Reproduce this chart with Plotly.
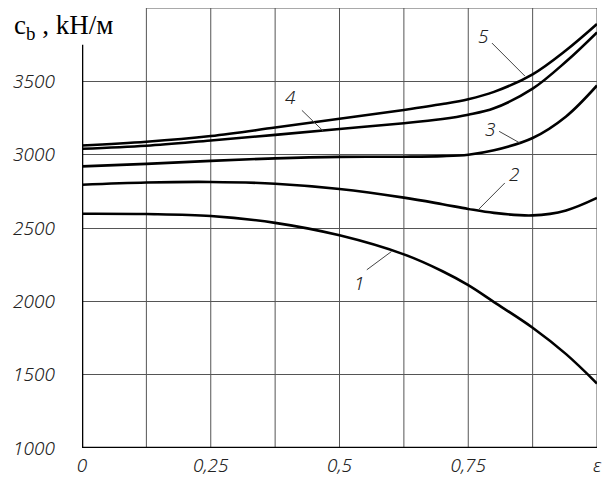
import plotly.graph_objects as go

eps = [0, 0.125, 0.25, 0.375, 0.5, 0.625, 0.7, 0.75, 0.8, 0.875, 0.94, 1.0]
curve1 = [2597, 2595, 2582, 2535, 2450, 2320, 2205, 2110, 1995, 1820, 1640, 1440]
curve2 = [2795, 2810, 2814, 2802, 2766, 2707, 2662, 2630, 2603, 2586, 2620, 2705]
curve3 = [2920, 2937, 2958, 2975, 2985, 2986, 2990, 3000, 3030, 3114, 3261, 3472]
curve4 = [3040, 3061, 3097, 3135, 3175, 3214, 3243, 3272, 3316, 3450, 3635, 3834]
curve5 = [3063, 3088, 3127, 3185, 3245, 3305, 3345, 3378, 3428, 3548, 3712, 3891]
series = [curve1, curve2, curve3, curve4, curve5]

curve_labels = ["1", "2", "3", "4", "5"]
label_x = [0.538, 0.839, 0.792, 0.404, 0.779]
label_y = [2128, 2870, 3177, 3396, 3811]
leader_x0 = [0.553, 0.821, 0.810, 0.427, 0.796]
leader_y0 = [2215, 2807, 3159, 3302, 3761]
leader_x1 = [0.601, 0.771, 0.850, 0.469, 0.860]
leader_y1 = [2340, 2630, 3080, 3159, 3536]

x_tickvals = [0, 0.25, 0.5, 0.75, 1.0]
x_ticktext = ["0", "0,25", "0,5", "0,75", "ε"]
y_tickvals = [1000, 1500, 2000, 2500, 3000, 3500]
y_ticktext = ["1000", "1500", "2000", "2500", "3000", "3500"]

tick_font = dict(family="Noto Sans, sans-serif", size=19, color="#222",
                 style="italic", weight=300)

fig = go.Figure()
for s in series:
    fig.add_trace(go.Scatter(x=eps, y=s, mode="lines",
                             line=dict(color="black", width=2.6, shape="spline", smoothing=1.0),
                             showlegend=False, hoverinfo="skip"))

for lab, lx, ly in zip(curve_labels, label_x, label_y):
    fig.add_annotation(x=lx, y=ly, text=lab, showarrow=False, font=tick_font)
for a, b, c, d in zip(leader_x0, leader_y0, leader_x1, leader_y1):
    fig.add_shape(type="line", x0=a, y0=b, x1=c, y1=d, xref="x", yref="y",
                  line=dict(color="#444", width=1))

grid_col = "#555"
# top border (missing over the title cell) and right border
fig.add_shape(type="line", x0=0.125, x1=1.0, y0=4000, y1=4000, xref="x", yref="y",
              line=dict(color=grid_col, width=1), layer="below")
fig.add_shape(type="line", x0=1.0, x1=1.0, y0=1000, y1=4000, xref="x", yref="y",
              line=dict(color=grid_col, width=1), layer="below")
# vertical gridlines at every 0.125
for k in range(1, 8):
    fig.add_shape(type="line", x0=k / 8, x1=k / 8, y0=1000, y1=4000, xref="x", yref="y",
                  line=dict(color=grid_col, width=1), layer="below")
# bold axes
fig.add_shape(type="line", x0=0, x1=0, y0=1000, y1=3750, xref="x", yref="y",
              line=dict(color="black", width=2.6))
fig.add_shape(type="line", x0=0, x1=1, y0=1000, y1=1000, xref="x", yref="y",
              line=dict(color="black", width=2.6))

fig.add_annotation(xref="paper", yref="paper", x=-0.135, y=1.0, xanchor="left", yanchor="top",
                   yshift=0, text="c<sub>b</sub> , kH/м", showarrow=False,
                   font=dict(family="Liberation Serif, Times New Roman, serif", size=27, color="black"))

fig.update_xaxes(range=[0, 1], tickvals=x_tickvals, ticktext=x_ticktext,
                 showgrid=False, showline=False, zeroline=False, ticks="",
                 tickfont=tick_font, ticklabelstandoff=4)
fig.update_yaxes(range=[1000, 4000], tickvals=y_tickvals, ticktext=y_ticktext,
                 showgrid=True, gridcolor=grid_col, gridwidth=1,
                 showline=False, zeroline=False, ticks="", tickfont=tick_font,
                 ticklabelstandoff=26)

fig.update_layout(width=608, height=489, margin=dict(l=82, r=11, t=8, b=41, autoexpand=False),
                  plot_bgcolor="white", paper_bgcolor="white")
fig.write_html("out.html", config={"displayModeBar": False},
               post_script="document.body.style.margin='0';")
